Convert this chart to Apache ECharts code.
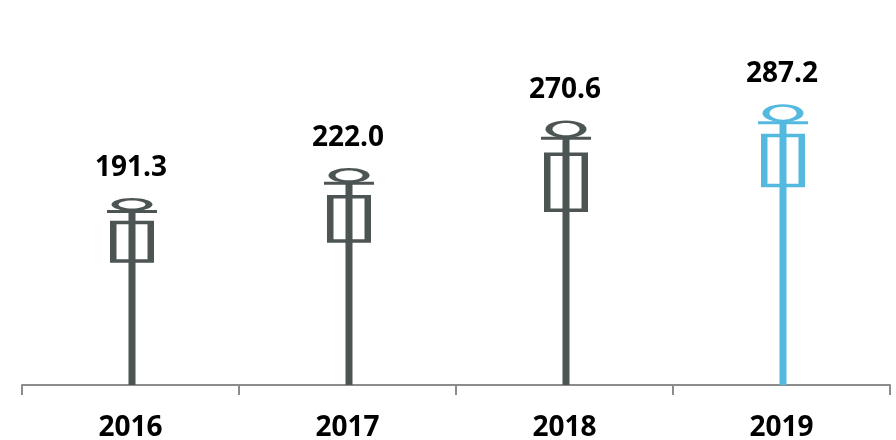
<!DOCTYPE html>
<html><head><meta charset="utf-8">
<style>html,body{margin:0;padding:0;background:#fff}#c{width:896px;height:440px}</style>
<script src="https://cdn.jsdelivr.net/npm/echarts@6/dist/echarts.min.js"></script>
</head><body><div id="c"></div>
<script>
const categories = ['2016','2017','2018','2019'];
const values = [191.3,222.0,270.6,287.2];
const boxTop = [168,194.5,238,257];
const boxBottom = [125,145.5,177,202.5];
const crossbar = [178,207,253,269];
const colors = ['#4d5554','#4d5554','#4d5554','#54b9de'];
const FONT = '"Open Sans", Lato, sans-serif';

const chart = echarts.init(document.getElementById('c'), null, {renderer:'canvas'});
function renderItem(params, api){
  const i = api.value(0);
  const c = colors[i];
  const cx = api.coord([i,0])[0];
  const x = cx+1.5;
  const base = api.coord([i,0])[1];
  const top = api.coord([i,api.value(1)])[1];
  const bar = api.coord([i,crossbar[i]])[1];
  const bt = api.coord([i,boxTop[i]])[1];
  const bb = api.coord([i,boxBottom[i]])[1];
  const ry = (bar-top)/2;
  const els = [
    {type:'rect',shape:{x:x-22,y:bt,width:44,height:bb-bt},style:{fill:c}},
    {type:'rect',shape:{x:x-15.5,y:bt+3.5,width:31,height:bb-bt-7},style:{fill:'#fff'}},
    {type:'ellipse',shape:{cx:x,cy:top+ry,rx:20.5,ry:ry},style:{fill:c}},
    {type:'ellipse',shape:{cx:x,cy:top+ry,rx:13.5,ry:Math.max(ry-2.5,2)},style:{fill:'#fff'}},
    {type:'rect',shape:{x:x-25,y:bar-1,width:50,height:3},style:{fill:c}},
    {type:'rect',shape:{x:x-3.5,y:bar,width:7,height:base-bar},style:{fill:c}},
    {type:'text',style:{text:api.value(1).toFixed(1),x:cx+0.5,y:top-30.5,align:'center',verticalAlign:'middle',
      fill:'#000',font:'bold 28px '+FONT}}
  ];
  return {type:'group',children:els};
}
chart.setOption({
  animation:false,
  grid:{left:22,right:6,top:0,bottom:55,outerBoundsMode:'none'},
  xAxis:{type:'category',data:categories,boundaryGap:true,
    axisLine:{show:true,lineStyle:{color:'#8c8c8c',width:2}},
    axisTick:{show:true,length:10,lineStyle:{color:'#8c8c8c',width:2}},
    axisLabel:{color:'#000',fontFamily:FONT,fontWeight:'bold',fontSize:28,margin:29}},
  yAxis:{type:'value',min:0,max:394,show:false},
  series:[{type:'custom',renderItem,data:values.map((v,i)=>[i,v]),encode:{x:0,y:1},clip:false}]
});
</script></body></html>
